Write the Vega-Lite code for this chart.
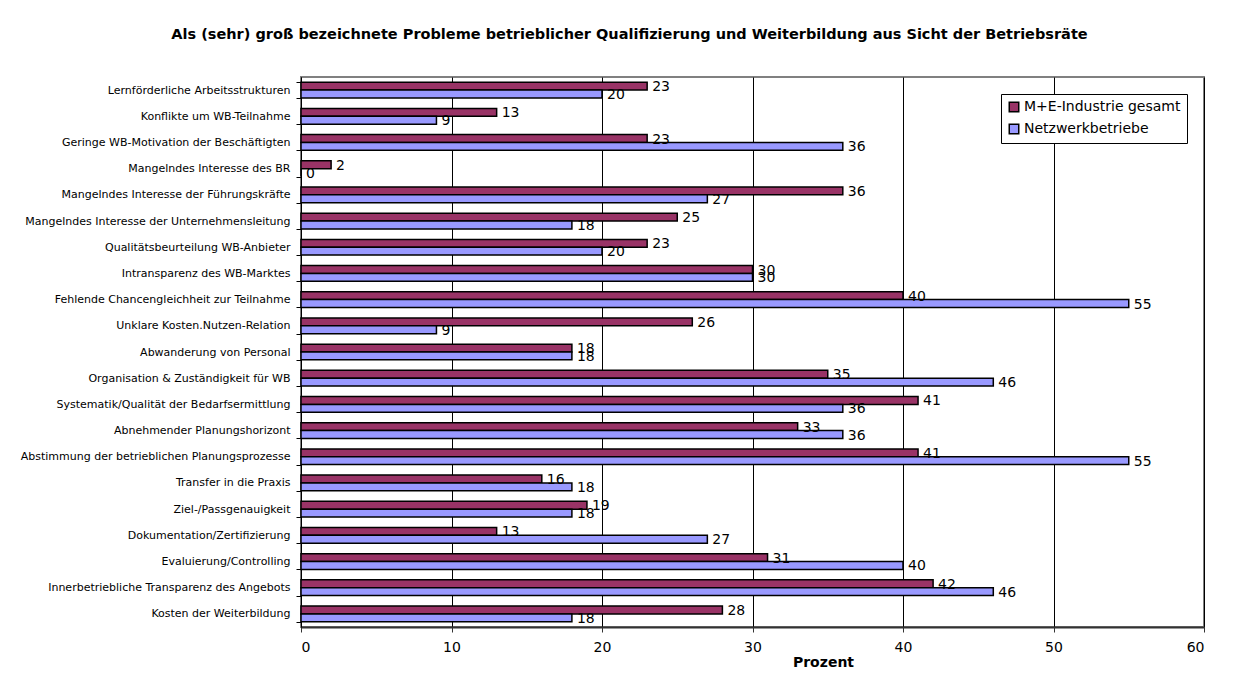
{
  "$schema": "https://vega.github.io/schema/vega-lite/v6.json",
  "autosize": "none",
  "width": 903,
  "height": 550,
  "padding": {"left": 301, "top": 77, "right": 38, "bottom": 48},
  "background": "white",
  "title": {
    "text": "Als (sehr) groß bezeichnete Probleme betrieblicher Qualifizierung und Weiterbildung aus Sicht der Betriebsräte",
    "anchor": "middle",
    "dx": -123,
    "offset": 29,
    "fontSize": 14.5,
    "fontWeight": "bold",
    "font": "DejaVu Sans",
    "color": "black"
  },
  "config": {
    "font": "DejaVu Sans",
    "view": {"stroke": "#808080", "strokeWidth": 2}
  },
  "data": {
    "values": [
      {"cat": "Lernförderliche Arbeitsstrukturen", "series": "M+E-Industrie gesamt", "value": 23},
      {"cat": "Lernförderliche Arbeitsstrukturen", "series": "Netzwerkbetriebe", "value": 20},
      {"cat": "Konflikte um WB-Teilnahme", "series": "M+E-Industrie gesamt", "value": 13},
      {"cat": "Konflikte um WB-Teilnahme", "series": "Netzwerkbetriebe", "value": 9},
      {"cat": "Geringe WB-Motivation der Beschäftigten", "series": "M+E-Industrie gesamt", "value": 23},
      {"cat": "Geringe WB-Motivation der Beschäftigten", "series": "Netzwerkbetriebe", "value": 36},
      {"cat": "Mangelndes Interesse des BR", "series": "M+E-Industrie gesamt", "value": 2},
      {"cat": "Mangelndes Interesse des BR", "series": "Netzwerkbetriebe", "value": 0},
      {"cat": "Mangelndes Interesse der Führungskräfte", "series": "M+E-Industrie gesamt", "value": 36},
      {"cat": "Mangelndes Interesse der Führungskräfte", "series": "Netzwerkbetriebe", "value": 27},
      {"cat": "Mangelndes Interesse der Unternehmensleitung", "series": "M+E-Industrie gesamt", "value": 25},
      {"cat": "Mangelndes Interesse der Unternehmensleitung", "series": "Netzwerkbetriebe", "value": 18},
      {"cat": "Qualitätsbeurteilung WB-Anbieter", "series": "M+E-Industrie gesamt", "value": 23},
      {"cat": "Qualitätsbeurteilung WB-Anbieter", "series": "Netzwerkbetriebe", "value": 20},
      {"cat": "Intransparenz des WB-Marktes", "series": "M+E-Industrie gesamt", "value": 30},
      {"cat": "Intransparenz des WB-Marktes", "series": "Netzwerkbetriebe", "value": 30},
      {"cat": "Fehlende Chancengleichheit zur Teilnahme", "series": "M+E-Industrie gesamt", "value": 40},
      {"cat": "Fehlende Chancengleichheit zur Teilnahme", "series": "Netzwerkbetriebe", "value": 55},
      {"cat": "Unklare Kosten.Nutzen-Relation", "series": "M+E-Industrie gesamt", "value": 26},
      {"cat": "Unklare Kosten.Nutzen-Relation", "series": "Netzwerkbetriebe", "value": 9},
      {"cat": "Abwanderung von Personal", "series": "M+E-Industrie gesamt", "value": 18},
      {"cat": "Abwanderung von Personal", "series": "Netzwerkbetriebe", "value": 18},
      {"cat": "Organisation & Zuständigkeit für WB", "series": "M+E-Industrie gesamt", "value": 35},
      {"cat": "Organisation & Zuständigkeit für WB", "series": "Netzwerkbetriebe", "value": 46},
      {"cat": "Systematik/Qualität der Bedarfsermittlung", "series": "M+E-Industrie gesamt", "value": 41},
      {"cat": "Systematik/Qualität der Bedarfsermittlung", "series": "Netzwerkbetriebe", "value": 36},
      {"cat": "Abnehmender Planungshorizont", "series": "M+E-Industrie gesamt", "value": 33},
      {"cat": "Abnehmender Planungshorizont", "series": "Netzwerkbetriebe", "value": 36},
      {"cat": "Abstimmung der betrieblichen Planungsprozesse", "series": "M+E-Industrie gesamt", "value": 41},
      {"cat": "Abstimmung der betrieblichen Planungsprozesse", "series": "Netzwerkbetriebe", "value": 55},
      {"cat": "Transfer in die Praxis", "series": "M+E-Industrie gesamt", "value": 16},
      {"cat": "Transfer in die Praxis", "series": "Netzwerkbetriebe", "value": 18},
      {"cat": "Ziel-/Passgenauigkeit", "series": "M+E-Industrie gesamt", "value": 19},
      {"cat": "Ziel-/Passgenauigkeit", "series": "Netzwerkbetriebe", "value": 18},
      {"cat": "Dokumentation/Zertifizierung", "series": "M+E-Industrie gesamt", "value": 13},
      {"cat": "Dokumentation/Zertifizierung", "series": "Netzwerkbetriebe", "value": 27},
      {"cat": "Evaluierung/Controlling", "series": "M+E-Industrie gesamt", "value": 31},
      {"cat": "Evaluierung/Controlling", "series": "Netzwerkbetriebe", "value": 40},
      {"cat": "Innerbetriebliche Transparenz des Angebots", "series": "M+E-Industrie gesamt", "value": 42},
      {"cat": "Innerbetriebliche Transparenz des Angebots", "series": "Netzwerkbetriebe", "value": 46},
      {"cat": "Kosten der Weiterbildung", "series": "M+E-Industrie gesamt", "value": 28},
      {"cat": "Kosten der Weiterbildung", "series": "Netzwerkbetriebe", "value": 18}
    ]
  },
  "encoding": {
    "y": {
      "field": "cat",
      "type": "nominal",
      "sort": null,
      "scale": {"paddingInner": 0.4, "paddingOuter": 0.2},
      "axis": {
        "title": null,
        "labelFontSize": 11,
        "labelColor": "black",
        "labelPadding": 6,
        "labelLimit": 400,
        "tickBand": "extent",
        "tickSize": 5,
        "tickColor": "black",
        "domainColor": "black",
        "domainWidth": 1
      }
    },
    "yOffset": {
      "field": "series",
      "type": "nominal",
      "sort": ["M+E-Industrie gesamt", "Netzwerkbetriebe"]
    },
    "x": {
      "field": "value",
      "type": "quantitative",
      "scale": {"domain": [0, 60], "nice": false},
      "axis": {
        "values": [0, 10, 20, 30, 40, 50, 60],
        "title": "Prozent",
        "titleFontSize": 14,
        "titleFontWeight": "bold",
        "titleColor": "black",
        "titleX": 522,
        "titleY": 35,
        "titleBaseline": "middle",
        "labelFontSize": 14,
        "labelColor": "black",
        "labelPadding": 8,
        "grid": true,
        "gridColor": "black",
        "gridWidth": 1,
        "gridOpacity": 1,
        "tickSize": 5,
        "tickColor": "#333333",
        "domainColor": "#333333",
        "domainWidth": 2
      }
    }
  },
  "layer": [
    {
      "mark": {"type": "bar", "stroke": "black", "strokeWidth": 1.5},
      "encoding": {
        "color": {
          "field": "series",
          "type": "nominal",
          "scale": {
            "domain": ["M+E-Industrie gesamt", "Netzwerkbetriebe"],
            "range": ["#993366", "#9999FF"]
          },
          "legend": {
            "title": null,
            "orient": "top-right",
            "offset": 17,
            "labelFontSize": 14,
            "labelColor": "black",
            "symbolType": "square",
            "symbolSize": 90,
            "symbolStrokeColor": "black",
            "symbolStrokeWidth": 1.5,
            "symbolOpacity": 1,
            "rowPadding": 6,
            "labelOffset": 3,
            "padding": 6,
            "strokeColor": "black",
            "fillColor": "white"
          }
        }
      }
    },
    {
      "mark": {"type": "text", "align": "left", "baseline": "middle", "dx": 5, "dy": 1, "fontSize": 14, "color": "black"},
      "encoding": {
        "text": {"field": "value", "type": "quantitative"}
      }
    }
  ]
}
